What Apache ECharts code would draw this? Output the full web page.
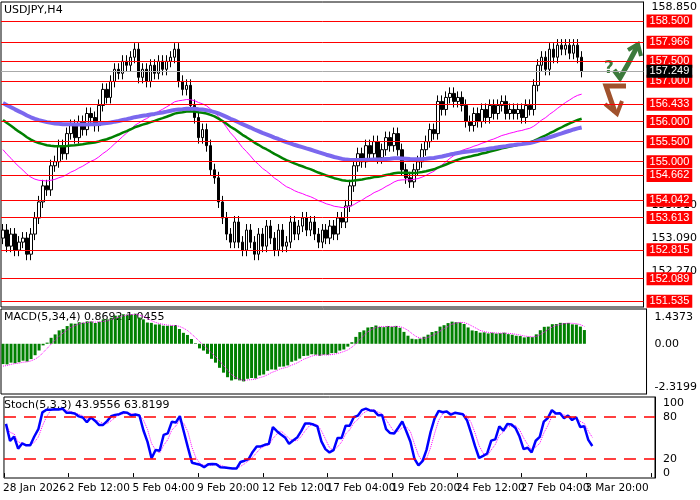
<!DOCTYPE html>
<html>
<head>
<meta charset="utf-8">
<script src="https://cdn.jsdelivr.net/npm/echarts@6/dist/echarts.min.js"></script>
<style>html,body{margin:0;background:#fff}#main{width:700px;height:500px}</style>
</head>
<body>
<div id="main"></div>
<script>
// earlier closes, used only to warm up the MACD
var priorCloses = [155.6,155.4,155.5,155.2,155.0,154.8,154.5,154.2,154.0,153.8,
                   153.6,153.7,153.4,153.5,153.2,153.3,153.0,153.2,152.9,153.1];
var closes = [153.3,152.9,153.2,152.8,153.0,153.1,152.7,153.2,153.6,154.0,
              154.4,154.3,154.9,155.0,155.4,155.2,155.7,155.9,155.6,156.0,
              155.8,156.2,156.1,155.9,156.4,156.8,156.6,157.0,157.3,157.2,
              157.5,157.4,157.6,157.8,157.1,157.3,157.0,157.4,157.2,157.5,
              157.3,157.5,157.6,157.8,157.0,156.8,156.9,156.4,156.1,155.6,
              155.8,155.4,154.8,154.6,154.0,153.6,153.2,153.0,153.5,153.0,
              152.8,153.3,153.0,152.7,153.2,152.9,153.4,153.1,152.8,153.3,
              152.9,153.0,153.5,153.2,153.4,153.6,153.3,153.5,153.2,153.0,
              153.3,153.1,153.4,153.2,153.6,153.5,153.9,154.4,154.9,155.2,
              155.0,155.4,155.2,155.5,155.1,155.3,155.6,155.4,155.7,155.3,
              154.8,154.6,154.5,154.8,155.0,155.3,155.5,155.8,155.7,156.5,
              156.3,156.6,156.7,156.5,156.6,156.4,156.0,155.9,156.2,156.0,
              156.3,156.1,156.4,156.2,156.4,156.5,156.2,156.3,156.2,156.3,
              156.1,156.4,156.3,156.9,157.4,157.6,157.3,157.8,157.6,157.9,
              157.8,157.9,157.7,157.9,157.6,157.249];
// moving averages: [period, value at the first candle]
var maFast = [40, 155.3], maMid = [80, 156.04], maSlow = [130, 156.46];
var levels = [158.5,157.966,157.5,157.0,156.433,156.0,155.5,155.0,154.662,154.042,153.613,152.815,152.089,151.535];
var greyTicks = [158.85,153.91,153.09,152.27];
var dateLabels = ['28 Jan 2026','2 Feb 12:00','5 Feb 04:00','9 Feb 20:00','12 Feb 12:00','17 Feb 04:00','19 Feb 20:00','24 Feb 12:00','27 Feb 04:00','3 Mar 20:00'];
var lastPrice = 157.249;

var N = 161, step = 16;
var cats = [];
for (var i = 0; i < N; i++) cats.push(i % step === 0 ? (dateLabels[i / step] || '') : '');

var all = priorCloses.concat(closes), H = priorCloses.length;
var kdata = [], highs = [], lows = [];
for (var i = 0; i < closes.length; i++) {
    var o = all[H + i - 1], c = closes[i];
    var hi = Math.max(o, c) + 0.15, lo = Math.min(o, c) - 0.15;
    kdata.push([o, c, lo, hi]); highs.push(hi); lows.push(lo);
}
function maLine(cfg) {
    var k = 2 / (cfg[0] + 1), out = [cfg[1]];
    for (var i = 1; i < closes.length; i++) out.push(+(closes[i] * k + out[i - 1] * (1 - k)).toFixed(3));
    return out;
}
function ema(arr, n) {
    var k = 2 / (n + 1), out = [arr[0]];
    for (var i = 1; i < arr.length; i++) out.push(arr[i] * k + out[i - 1] * (1 - k));
    return out;
}
var e5 = ema(all, 5), e34 = ema(all, 34), macdAll = e5.map(function (v, i) { return v - e34[i]; });
var macd = [], macdSig = [];
for (var i = H; i < all.length; i++) {
    macd.push(+macdAll[i].toFixed(4));
    macdSig.push(+((macdAll[i] + macdAll[i-1] + macdAll[i-2] + macdAll[i-3]) / 4).toFixed(4));
}
var rawK = [];
for (var i = 0; i < closes.length; i++) {
    var hh = -1e9, ll = 1e9;
    for (var j = Math.max(0, i - 4); j <= i; j++) { hh = Math.max(hh, highs[j]); ll = Math.min(ll, lows[j]); }
    rawK.push(100 * (closes[i] - ll) / (hh - ll));
}
function smooth(a, n) {
    return a.map(function (v, i) { var s = 0, c = 0; for (var j = Math.max(0, i - n + 1); j <= i; j++) { s += a[j]; c++; } return +(s / c).toFixed(2); });
}
var stK = smooth(rawK, 3), stD = smooth(stK, 3);

var redLines = levels.map(function (v) {
    return { yAxis: v, lineStyle: { color: '#ff0000', width: 1, type: 'solid' },
        label: { formatter: v.toFixed(3), position: 'end', backgroundColor: '#ff0000', color: '#fff', padding: [1, 3], fontSize: 11, distance: 3 } };
});
redLines.push({ yAxis: lastPrice, lineStyle: { color: '#aaaaaa', width: 1, type: 'solid' },
    label: { formatter: lastPrice.toFixed(3), position: 'end', backgroundColor: '#000', color: '#fff', padding: [1, 3], fontSize: 11, distance: 3 } });
var stochLines = [80, 20].map(function (v) { return { yAxis: v }; });

var font = { fontFamily: 'DejaVu Sans', fontSize: 11, color: '#000' };
var xBase = { type: 'category', data: cats, boundaryGap: true, axisTick: { show: false }, axisLabel: { show: false }, axisLine: { show: false } };
var yBase = { position: 'right', scale: true, splitLine: { show: false }, axisLine: { show: true, lineStyle: { color: '#000' } },
    axisTick: { show: true, length: 4, lineStyle: { color: '#000' } } };

var myChart = echarts.init(document.getElementById('main'));
myChart.setOption({
    animation: false,
    grid: [
        { left: 1, right: 45, top: 2, height: 305, show: true, borderColor: '#000' },
        { left: 1, right: 45, top: 309, height: 85, show: true, borderColor: '#000' },
        { left: 1, right: 45, top: 397, height: 81, show: true, borderColor: '#000' }
    ],
    xAxis: [
        Object.assign({ gridIndex: 0 }, xBase),
        Object.assign({ gridIndex: 1 }, xBase),
        Object.assign({ gridIndex: 2 }, xBase, {
            axisTick: { show: true, interval: function (i) { return i % step === 0; }, length: 4, lineStyle: { color: '#000' } },
            axisLabel: Object.assign({ show: true, showMinLabel: true, hideOverlap: false,
                interval: function (i) { return i % step === 0; }, margin: 5, align: 'left', padding: [0, 0, 0, -3] }, font, { fontSize: 10.5 })
        })
    ],
    yAxis: [
        Object.assign({ gridIndex: 0, min: 151.386, max: 158.974 }, yBase, {
            axisLabel: Object.assign({ customValues: greyTicks, formatter: function (v) { return v.toFixed(3); } }, font),
            axisTick: { customValues: greyTicks, length: 4, lineStyle: { color: '#000' } } }),
        Object.assign({ gridIndex: 1, min: -2.696, max: 1.867 }, yBase, {
            axisLabel: Object.assign({ customValues: [1.4373, 0, -2.3199], formatter: function (v) { return v === 0 ? '0.00' : String(v); } }, font),
            axisTick: { customValues: [1.4373, 0, -2.3199], length: 4, lineStyle: { color: '#000' } } }),
        Object.assign({ gridIndex: 2, min: -7, max: 108.3 }, yBase, {
            axisLabel: Object.assign({ customValues: [100, 80, 20, 0] }, font),
            axisTick: { customValues: [100, 80, 20, 0], length: 4, lineStyle: { color: '#000' } } })
    ],
    series: [
        { type: 'candlestick', data: kdata, barWidth: 3,
          itemStyle: { color: '#fff', color0: '#000', borderColor: '#000', borderColor0: '#000', borderWidth: 1 },
          markLine: { symbol: 'none', silent: true, data: redLines } },
        { type: 'line', data: maLine(maFast), showSymbol: false, lineStyle: { color: '#ff00ff', width: 1 } },
        { type: 'line', data: maLine(maMid), showSymbol: false, lineStyle: { color: '#008000', width: 2.5 } },
        { type: 'line', data: maLine(maSlow), showSymbol: false, lineStyle: { color: '#7b68ee', width: 4 } },
        { type: 'bar', xAxisIndex: 1, yAxisIndex: 1, data: macd, barWidth: 3, itemStyle: { color: '#008000' } },
        { type: 'line', xAxisIndex: 1, yAxisIndex: 1, data: macdSig, showSymbol: false, lineStyle: { color: '#ff00ff', width: 1, type: 'dotted' } },
        { type: 'line', xAxisIndex: 2, yAxisIndex: 2, data: stD, showSymbol: false, lineStyle: { color: '#ff00ff', width: 1, type: 'dotted' } },
        { type: 'line', xAxisIndex: 2, yAxisIndex: 2, data: stK, showSymbol: false, lineStyle: { color: '#0000ff', width: 2.5 },
          markLine: { symbol: 'none', silent: true, label: { show: false }, data: stochLines,
              lineStyle: { color: '#ff0000', width: 1.5, type: [12, 8], opacity: 1 } } }
    ],
    graphic: [
        { type: 'text', left: 4, top: 5, style: { text: 'USDJPY,H4', font: '11px DejaVu Sans', fill: '#000' } },
        { type: 'text', left: 4, top: 312, style: { text: 'MACD(5,34,4) 0.8692 1.0455', font: '11px DejaVu Sans', fill: '#000' } },
        { type: 'text', left: 4, top: 400, style: { text: 'Stoch(5,3,3) 43.9556 63.8199', font: '11px DejaVu Sans', fill: '#000' } },
        { type: 'text', left: 604, top: 60, style: { text: '?', font: 'bold 17px DejaVu Sans', fill: '#3c7a3c' } },
        { type: 'polyline', shape: { points: [[614, 70], [620, 78], [628, 64], [637, 47]] }, style: { stroke: '#3c7a3c', lineWidth: 5, fill: null } },
        { type: 'polyline', shape: { points: [[628, 50], [638, 44], [641, 56]] }, style: { stroke: '#3c7a3c', lineWidth: 4, fill: null } },
        { type: 'polyline', shape: { points: [[626, 86], [606, 86], [615, 112]] }, style: { stroke: '#a0522d', lineWidth: 5, fill: null } },
        { type: 'polyline', shape: { points: [[605, 104], [617, 114], [622, 101]] }, style: { stroke: '#a0522d', lineWidth: 4, fill: null } }
    ]
});
</script>
</body>
</html>
